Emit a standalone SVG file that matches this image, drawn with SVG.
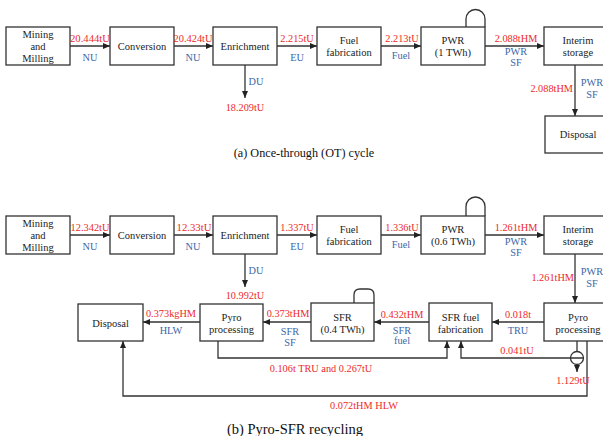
<svg xmlns="http://www.w3.org/2000/svg" width="603" height="436" viewBox="0 0 603 436" font-family="Liberation Serif, DejaVu Serif, serif">
<style>
.box{fill:#fff;stroke:#333;stroke-width:1.3}
.ln{fill:none;stroke:#333;stroke-width:1.3}
text{font-family:'Liberation Serif','DejaVu Serif',serif}
.t{font-size:10.5px;fill:#222;text-anchor:middle}
.r{font-size:10.3px;fill:#EE2A2A;text-anchor:middle}
.b{font-size:10.3px;fill:#3C66A8;text-anchor:middle}
.cap{fill:#111;text-anchor:middle}
</style>
<defs>
<marker id="ah" markerWidth="7" markerHeight="6" refX="7" refY="3" orient="auto" markerUnits="userSpaceOnUse">
<path d="M0,0 L7,3 L0,6 z" fill="#222"/>
</marker>
</defs>
<rect width="603" height="436" fill="#fff"/>

<g id="connectors">
<line class="ln" x1="70" y1="46" x2="110" y2="46" marker-end="url(#ah)"/>
<line class="ln" x1="174" y1="46" x2="213" y2="46" marker-end="url(#ah)"/>
<line class="ln" x1="277" y1="46" x2="317" y2="46" marker-end="url(#ah)"/>
<line class="ln" x1="381" y1="46" x2="421" y2="46" marker-end="url(#ah)"/>
<line class="ln" x1="485" y1="46" x2="544" y2="46" marker-end="url(#ah)"/>
<line class="ln" x1="245" y1="65" x2="245" y2="98" marker-end="url(#ah)"/>
<line class="ln" x1="575" y1="65" x2="575" y2="116" marker-end="url(#ah)"/>
<path class="ln" d="M466,27 V19 A9.5,9.5 0 0 1 485,19 V27"/>
<line class="ln" x1="70" y1="235" x2="110" y2="235" marker-end="url(#ah)"/>
<line class="ln" x1="174" y1="235" x2="213" y2="235" marker-end="url(#ah)"/>
<line class="ln" x1="277" y1="235" x2="317" y2="235" marker-end="url(#ah)"/>
<line class="ln" x1="381" y1="235" x2="421" y2="235" marker-end="url(#ah)"/>
<line class="ln" x1="485" y1="235" x2="544" y2="235" marker-end="url(#ah)"/>
<line class="ln" x1="245" y1="254" x2="245" y2="287" marker-end="url(#ah)"/>
<line class="ln" x1="575" y1="254" x2="575" y2="303" marker-end="url(#ah)"/>
<path class="ln" d="M466,216 V206.5 A9.5,9.5 0 0 1 485,206.5 V216"/>
<path class="ln" d="M354,303 V295 Q354,289 360,289 H368 Q374,289 374,295 V303"/>
<line class="ln" x1="544" y1="322" x2="492" y2="322" marker-end="url(#ah)"/>
<line class="ln" x1="429" y1="322" x2="374" y2="322" marker-end="url(#ah)"/>
<line class="ln" x1="311" y1="322" x2="263" y2="322" marker-end="url(#ah)"/>
<line class="ln" x1="200" y1="322" x2="143" y2="322" marker-end="url(#ah)"/>
<path class="ln" d="M218,341 V358 H447 V341" marker-end="url(#ah)"/>
<path class="ln" d="M584,358 H461 V341" marker-end="url(#ah)"/>
<line class="ln" x1="577" y1="341" x2="577" y2="351.5"/>
<circle class="ln" cx="577" cy="358" r="6.5"/>
<line class="ln" x1="577" y1="364.5" x2="577" y2="372" marker-end="url(#ah)"/>
<path class="ln" d="M587,341 V396 H123 V341" marker-end="url(#ah)"/>
</g>

<g id="a-mining"><rect class="box" x="6" y="27" width="64" height="38"/>
<text class="t" x="38" y="38">Mining</text><text class="t" x="38" y="50">and</text><text class="t" x="38" y="62">Milling</text></g>
<g id="a-conversion"><rect class="box" x="110" y="27" width="64" height="38"/><text class="t" x="142" y="50">Conversion</text></g>
<g id="a-enrichment"><rect class="box" x="213" y="27" width="64" height="38"/><text class="t" x="245" y="50">Enrichment</text></g>
<g id="a-fuelfab"><rect class="box" x="317" y="27" width="64" height="38"/><text class="t" x="349" y="44">Fuel</text><text class="t" x="349" y="56">fabrication</text></g>
<g id="a-pwr"><rect class="box" x="421" y="27" width="64" height="38"/><text class="t" x="453" y="44">PWR</text><text class="t" x="453" y="56">(1 TWh)</text></g>
<g id="a-interim"><rect class="box" x="544" y="27" width="66" height="38"/><text class="t" x="578" y="44">Interim</text><text class="t" x="578" y="56">storage</text></g>
<g id="a-disposal"><rect class="box" x="545" y="116" width="66" height="37"/><text class="t" x="578" y="138">Disposal</text></g>

<g id="a-labels">
<text class="r" x="90" y="42" textLength="40" lengthAdjust="spacingAndGlyphs">20.444tU</text><text class="b" x="90" y="61">NU</text>
<text class="r" x="193" y="42" textLength="39" lengthAdjust="spacingAndGlyphs">20.424tU</text><text class="b" x="193" y="61">NU</text>
<text class="r" x="297" y="42">2.215tU</text><text class="b" x="297" y="61">EU</text>
<text class="r" x="402" y="42">2.213tU</text><text class="b" x="401" y="59">Fuel</text>
<text class="r" x="516" y="42">2.088tHM</text><text class="b" x="516" y="55">PWR</text><text class="b" x="516" y="66">SF</text>
<text class="b" x="256" y="85">DU</text><text class="r" x="245" y="111">18.209tU</text>
<text class="r" x="573" y="92" style="text-anchor:end">2.088tHM</text>
<text class="b" x="592" y="86">PWR</text><text class="b" x="592" y="98">SF</text>
<text class="cap" x="304" y="157" style="font-size:12.2px">(a) Once-through (OT)  cycle</text>
</g>

<g id="b-mining"><rect class="box" x="6" y="216" width="64" height="38"/>
<text class="t" x="38" y="227">Mining</text><text class="t" x="38" y="239">and</text><text class="t" x="38" y="251">Milling</text></g>
<g id="b-conversion"><rect class="box" x="110" y="216" width="64" height="38"/><text class="t" x="142" y="239">Conversion</text></g>
<g id="b-enrichment"><rect class="box" x="213" y="216" width="64" height="38"/><text class="t" x="245" y="239">Enrichment</text></g>
<g id="b-fuelfab"><rect class="box" x="317" y="216" width="64" height="38"/><text class="t" x="349" y="233">Fuel</text><text class="t" x="349" y="245">fabrication</text></g>
<g id="b-pwr"><rect class="box" x="421" y="216" width="64" height="38"/><text class="t" x="453" y="233">PWR</text><text class="t" x="453" y="245">(0.6 TWh)</text></g>
<g id="b-interim"><rect class="box" x="544" y="216" width="66" height="38"/><text class="t" x="578" y="233">Interim</text><text class="t" x="578" y="245">storage</text></g>
<g id="b-pyro-right"><rect class="box" x="544" y="303" width="66" height="38"/><text class="t" x="578" y="321">Pyro</text><text class="t" x="578" y="333">processing</text></g>
<g id="b-sfrfab"><rect class="box" x="429" y="303" width="63" height="38"/><text class="t" x="460.5" y="321">SFR fuel</text><text class="t" x="460.5" y="333">fabrication</text></g>
<g id="b-sfr"><rect class="box" x="311" y="303" width="63" height="38"/><text class="t" x="342.5" y="321">SFR</text><text class="t" x="342.5" y="333">(0.4 TWh)</text></g>
<g id="b-pyro-left"><rect class="box" x="200" y="304" width="63" height="37"/><text class="t" x="231.5" y="321">Pyro</text><text class="t" x="231.5" y="333">processing</text></g>
<g id="b-disposal"><rect class="box" x="78" y="304" width="65" height="37"/><text class="t" x="110.5" y="327">Disposal</text></g>

<g id="b-labels">
<text class="r" x="90" y="231" textLength="39" lengthAdjust="spacingAndGlyphs">12.342tU</text><text class="b" x="90" y="250">NU</text>
<text class="r" x="194" y="231" textLength="35" lengthAdjust="spacingAndGlyphs">12.33tU</text><text class="b" x="193" y="250">NU</text>
<text class="r" x="297" y="231">1.337tU</text><text class="b" x="297" y="250">EU</text>
<text class="r" x="402" y="231">1.336tU</text><text class="b" x="401" y="248">Fuel</text>
<text class="r" x="516" y="231">1.261tHM</text><text class="b" x="516" y="245">PWR</text><text class="b" x="516" y="256">SF</text>
<text class="b" x="256" y="274">DU</text><text class="r" x="245" y="299">10.992tU</text>
<text class="r" x="574" y="281" style="text-anchor:end">1.261tHM</text>
<text class="b" x="592" y="275">PWR</text><text class="b" x="592" y="287">SF</text>
<text class="r" x="518" y="318">0.018t</text><text class="b" x="518" y="334">TRU</text>
<text class="r" x="402" y="318">0.432tHM</text><text class="b" x="402" y="334">SFR</text><text class="b" x="402" y="344">fuel</text>
<text class="r" x="288" y="317">0.373tHM</text><text class="b" x="290" y="335">SFR</text><text class="b" x="290" y="346">SF</text>
<text class="r" x="171" y="317">0.373kgHM</text><text class="b" x="171" y="334">HLW</text>
<text class="r" x="517" y="354">0.041tU</text>
<text class="r" x="573" y="384">1.129tU</text>
<text class="r" x="321" y="372">0.106t TRU and 0.267tU</text>
<text class="r" x="364" y="409">0.072tHM HLW</text>
<text class="cap" x="295" y="434" style="font-size:14.5px">(b) Pyro-SFR recycling</text>
</g>
</svg>
